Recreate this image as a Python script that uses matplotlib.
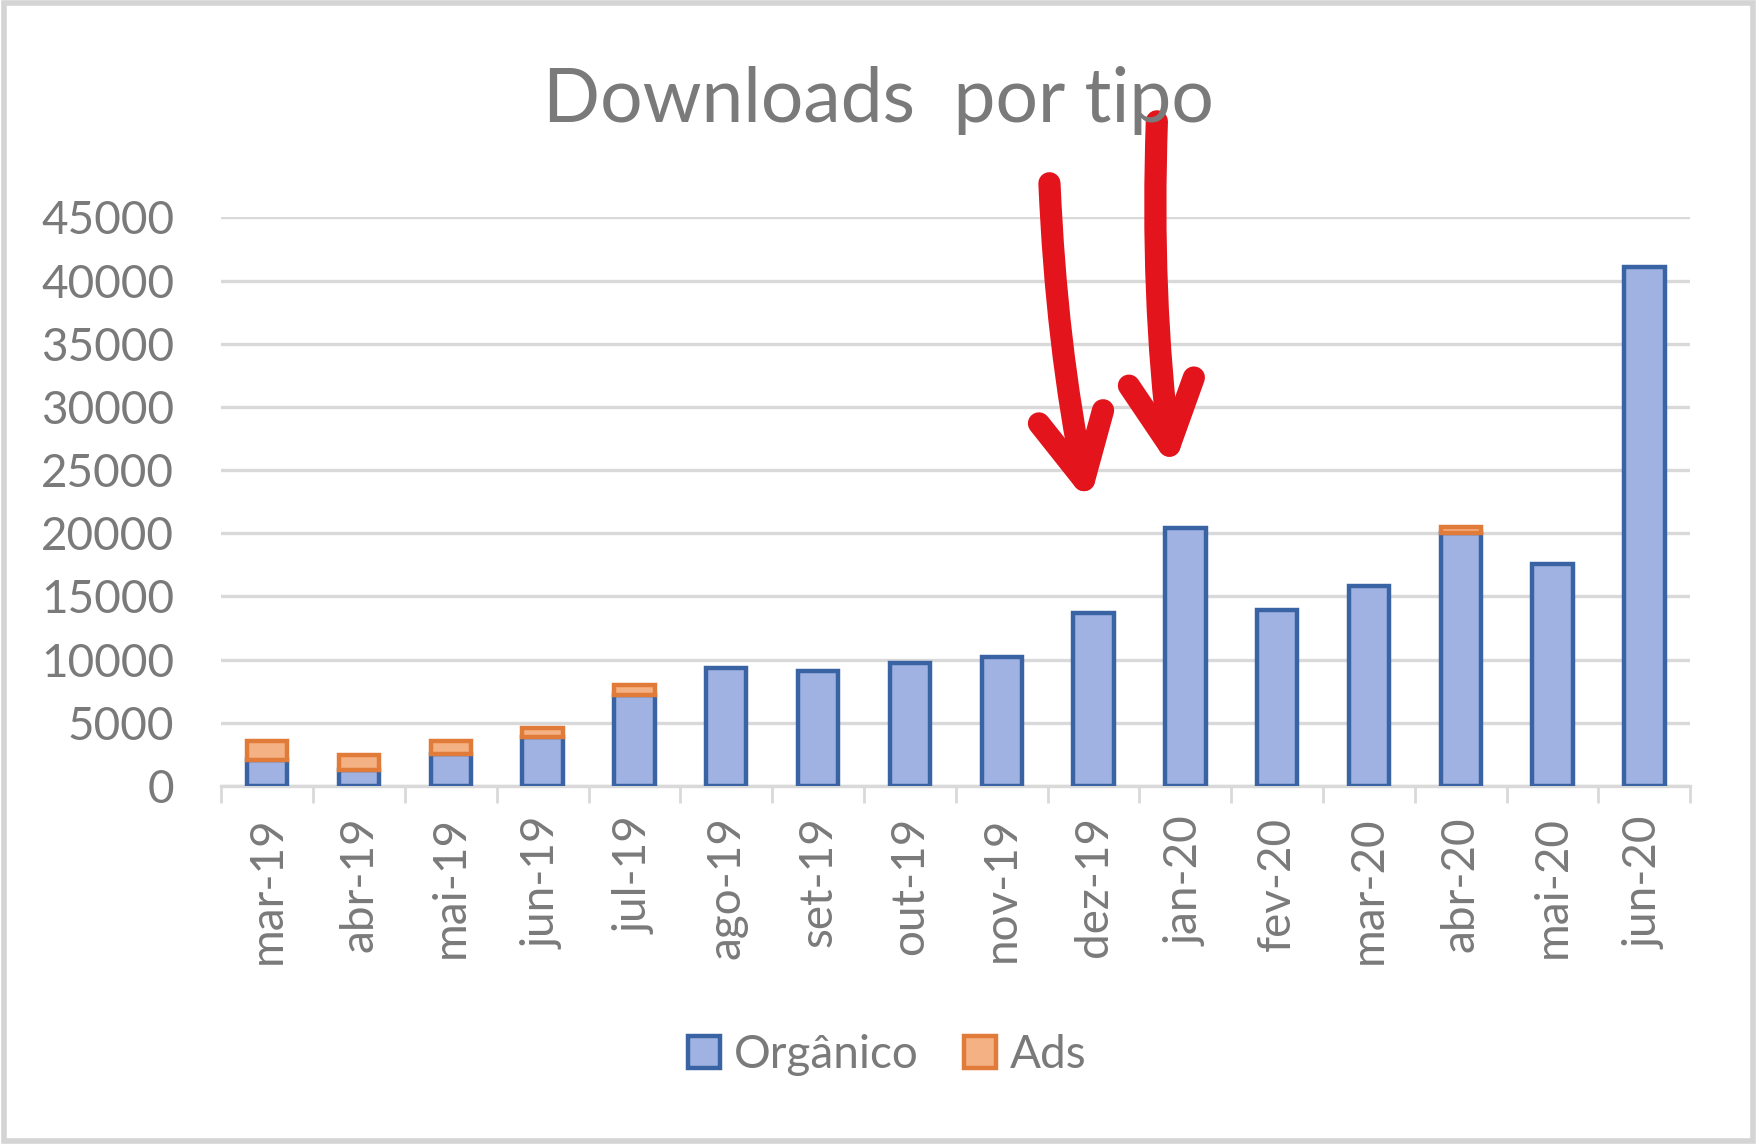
import matplotlib.pyplot as plt
from matplotlib.patches import Rectangle

MONTHS = ['mar-19', 'abr-19', 'mai-19', 'jun-19', 'jul-19', 'ago-19', 'set-19', 'out-19',
          'nov-19', 'dez-19', 'jan-20', 'fev-20', 'mar-20', 'abr-20', 'mai-20', 'jun-20']
ORGANICO = [2050, 1250, 2550, 3900, 7200, 9350, 9100, 9750,
            10200, 13700, 20450, 13950, 15800, 20050, 17600, 41100]
ADS = [1500, 1200, 1000, 700, 750, 0, 0, 0,
       0, 0, 0, 0, 0, 450, 0, 0]
Y_TICKS = [0, 5000, 10000, 15000, 20000, 25000, 30000, 35000, 40000, 45000]

# arrows drawn by hand on the screenshot: (x start, y start, x tip, y tip) in data units
ARROWS = [(8.52, 47700, 8.95, 22300),
          (9.69, 52600, 9.86, 25000)]

TEXT_GRAY = '#7a7a7a'
GRID_GRAY = '#d9d9d9'
ORG_FILL = '#9fb2e2'
ORG_EDGE = '#3a63a3'
ADS_FILL = '#f4b183'
ADS_EDGE = '#e07b39'

plt.rcParams['font.family'] = ['Lato', 'DejaVu Sans']

fig = plt.figure(figsize=(17.57, 11.44), dpi=100)
ax = fig.add_axes([0.126, 0.313, 0.836, 0.497])

x = list(range(len(MONTHS)))
ax.bar(x, ORGANICO, width=0.44, color=ORG_FILL, edgecolor=ORG_EDGE, linewidth=3.2,
       label='Orgânico', zorder=3)
# only months that actually had ads get a segment
ads_idx = [i for i in x if ADS[i] > 0]
ax.bar(ads_idx, [ADS[i] for i in ads_idx], bottom=[ORGANICO[i] for i in ads_idx],
       width=0.44, color=ADS_FILL, edgecolor=ADS_EDGE, linewidth=3.2, label='Ads', zorder=3)

ax.set_xlim(-0.5, len(MONTHS) - 0.5)
ax.set_ylim(0, 45000)
ax.set_yticks(Y_TICKS)
ax.set_yticklabels([str(v) for v in Y_TICKS])
ax.yaxis.grid(True, color=GRID_GRAY, linewidth=2.4, zorder=0)
ax.set_axisbelow(True)
ax.tick_params(axis='y', length=0, pad=34, labelsize=33, labelcolor=TEXT_GRAY)

ax.set_xticks(x)
ax.set_xticklabels(MONTHS, rotation=90)
ax.tick_params(axis='x', length=0, pad=22, labelsize=33, labelcolor=TEXT_GRAY)
# boundary ticks between categories
ax.set_xticks([i - 0.5 for i in range(len(MONTHS) + 1)], minor=True)
ax.tick_params(axis='x', which='minor', length=12, width=2, color=GRID_GRAY, direction='out')

for side in ['top', 'right', 'left']:
    ax.spines[side].set_visible(False)
ax.spines['bottom'].set_color(GRID_GRAY)
ax.spines['bottom'].set_linewidth(2.4)

fig.text(0.5, 0.912, 'Downloads  por tipo', ha='center', va='center',
         fontsize=54, color=TEXT_GRAY)

leg = fig.legend(loc='center', bbox_to_anchor=(0.505, 0.078), ncol=2, frameon=False,
                 fontsize=33, labelcolor=TEXT_GRAY, handlelength=0.7, handleheight=0.7,
                 handletextpad=0.3, columnspacing=1.0)

for x0, y0, x1, y1 in ARROWS:
    ax.annotate('', xy=(x1, y1), xytext=(x0, y0), xycoords='data', annotation_clip=False,
                arrowprops=dict(arrowstyle='->, head_length=0.75, head_width=0.38',
                                mutation_scale=62, color='#e3141c', lw=16,
                                capstyle='round', joinstyle='round',
                                connectionstyle='arc3,rad=0.04', shrinkA=0, shrinkB=0),
                zorder=5)

# light gray frame of the screenshot
fig.patches.append(Rectangle((0.002, 0.003), 0.996, 0.994, transform=fig.transFigure,
                             fill=False, edgecolor='#d4d4d4', linewidth=4))

fig.savefig('out.png', dpi=100)
